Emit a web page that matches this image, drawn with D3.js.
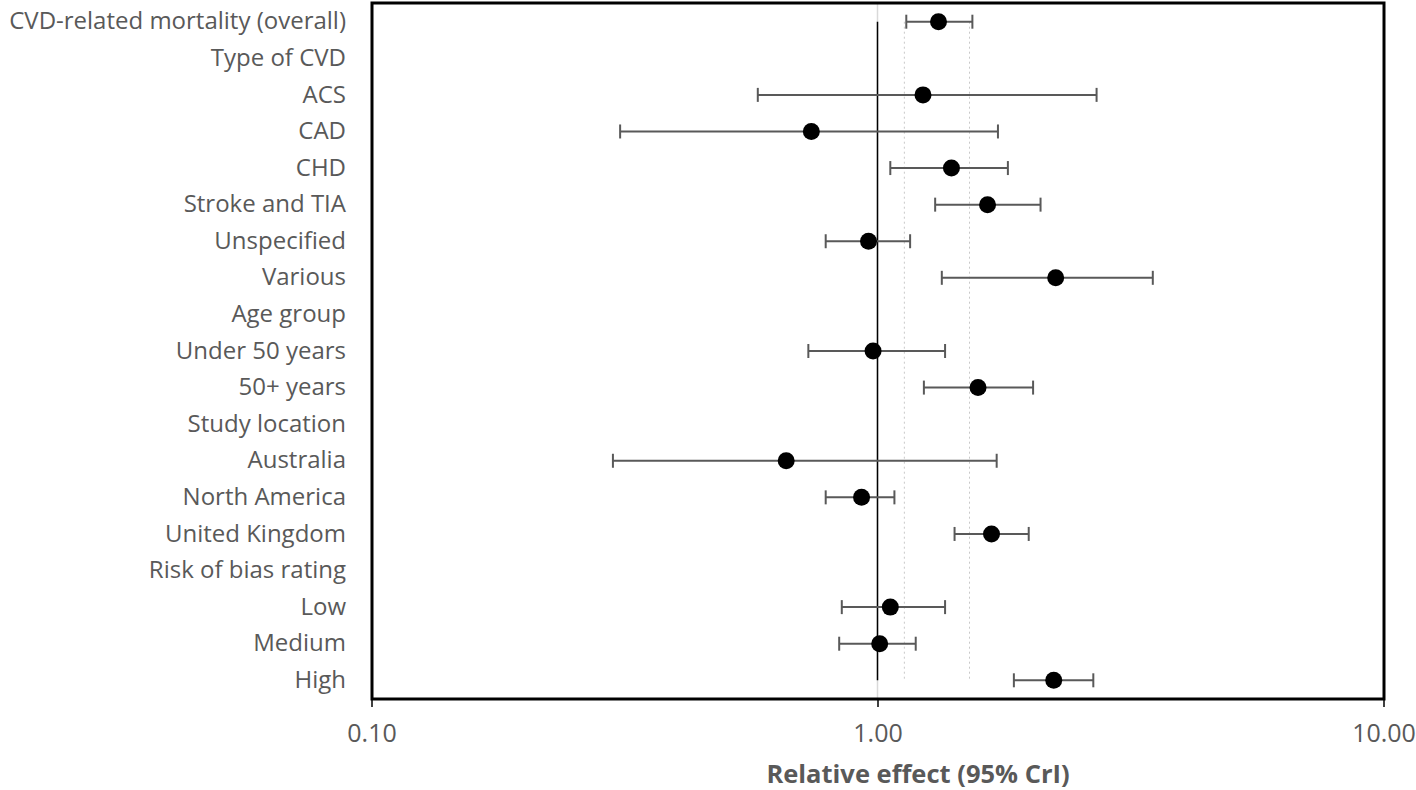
<!DOCTYPE html>
<html>
<head>
<meta charset="utf-8">
<script src="https://cdn.jsdelivr.net/npm/d3@7"></script>
<style>
  html, body { margin: 0; padding: 0; background: #ffffff; }
  svg { display: block; }
</style>
</head>
<body>
<svg id="chart" width="1416" height="790"></svg>
<script>
// ---- data ----
const categories = [
  "CVD-related mortality (overall)", "Type of CVD", "ACS", "CAD", "CHD",
  "Stroke and TIA", "Unspecified", "Various", "Age group", "Under 50 years",
  "50+ years", "Study location", "Australia", "North America", "United Kingdom",
  "Risk of bias rating", "Low", "Medium", "High"
];
// null = heading row without estimate
const estimate = [1.32, null, 1.23, 0.74, 1.40, 1.65, 0.96, 2.25, null, 0.98,
                  1.58, null, 0.66, 0.93, 1.68, null, 1.06, 1.01, 2.23];
const lower    = [1.14, null, 0.58, 0.31, 1.06, 1.30, 0.79, 1.34, null, 0.73,
                  1.235, null, 0.30, 0.79, 1.42, null, 0.85, 0.84, 1.86];
const upper    = [1.54, null, 2.71, 1.73, 1.81, 2.10, 1.16, 3.50, null, 1.36,
                  2.03, null, 1.72, 1.08, 1.99, null, 1.36, 1.19, 2.67];
const refLines = [1.13, 1.52];
const tickValues = [0.1, 1, 10];
const axisTitle = "Relative effect (95% CrI)";

(function () {
// ---- layout ----
const svg = d3.select("#chart");
const pLeft = 372, pRight = 1384, pTop = 3, pBottom = 699;
const x = d3.scaleLog().domain([0.1, 10]).range([pLeft - 0.5, pRight - 0.5]);
const y = d3.scalePoint().domain(categories).range([21.7, 680.3]);
const font = "'Open Sans', 'Noto Sans', sans-serif";
const grey = "#595959";

const rows = categories.map((c, i) => ({ c, est: estimate[i], lo: lower[i], hi: upper[i] }));

// light gridline at 1.0 spanning the plot
svg.append("line")
  .attr("x1", x(1)).attr("x2", x(1))
  .attr("y1", pTop).attr("y2", pBottom)
  .attr("stroke", "#d9d9d9").attr("stroke-width", 1.5);

// dotted reference lines
svg.selectAll("line.ref").data(refLines).enter().append("line")
  .attr("class", "ref")
  .attr("x1", d => x(d)).attr("x2", d => x(d))
  .attr("y1", y(categories[0])).attr("y2", y(categories[categories.length - 1]))
  .attr("stroke", "#c8c8c8").attr("stroke-width", 1)
  .attr("stroke-dasharray", "2,3");

// solid line of no effect
svg.append("line")
  .attr("x1", x(1)).attr("x2", x(1))
  .attr("y1", y(categories[0])).attr("y2", y(categories[categories.length - 1]))
  .attr("stroke", "#000").attr("stroke-width", 1.5);

const est = rows.filter(d => d.est !== null);

// error bars
const g = svg.append("g");
g.selectAll("line.ci").data(est).enter().append("line")
  .attr("x1", d => x(d.lo)).attr("x2", d => x(d.hi))
  .attr("y1", d => y(d.c)).attr("y2", d => y(d.c))
  .attr("stroke", grey).attr("stroke-width", 2);
g.selectAll("line.capl").data(est).enter().append("line")
  .attr("x1", d => x(d.lo)).attr("x2", d => x(d.lo))
  .attr("y1", d => y(d.c) - 7).attr("y2", d => y(d.c) + 7)
  .attr("stroke", grey).attr("stroke-width", 2);
g.selectAll("line.capr").data(est).enter().append("line")
  .attr("x1", d => x(d.hi)).attr("x2", d => x(d.hi))
  .attr("y1", d => y(d.c) - 7).attr("y2", d => y(d.c) + 7)
  .attr("stroke", grey).attr("stroke-width", 2);

// points
g.selectAll("circle").data(est).enter().append("circle")
  .attr("cx", d => x(d.est)).attr("cy", d => y(d.c))
  .attr("r", 8.5).attr("fill", "#000");

// frame
svg.append("rect")
  .attr("x", pLeft).attr("y", pTop)
  .attr("width", pRight - pLeft).attr("height", pBottom - pTop)
  .attr("fill", "none").attr("stroke", "#000").attr("stroke-width", 3);

// category labels
svg.selectAll("text.cat").data(categories).enter().append("text")
  .attr("x", 346).attr("y", d => y(d) - 1)
  .attr("dy", "0.36em")
  .attr("text-anchor", "end")
  .attr("font-family", font).attr("font-size", 24)
  .attr("fill", grey)
  .text(d => d);

// x axis
const axis = d3.axisBottom(x).tickValues(tickValues)
  .tickFormat(d3.format(".2f")).tickSize(8).tickPadding(17);
const ax = svg.append("g").attr("transform", `translate(0,${pBottom})`).call(axis);
ax.select(".domain").remove();
ax.selectAll(".tick line").attr("stroke", "#000").attr("stroke-width", 1.5);
ax.selectAll(".tick text")
  .attr("font-family", font).attr("font-size", 25).attr("fill", grey);

// axis title
svg.append("text")
  .attr("x", 918).attr("y", 783)
  .attr("text-anchor", "middle")
  .attr("font-family", font).attr("font-size", 25.5).attr("font-weight", "bold")
  .attr("fill", grey)
  .text(axisTitle);
})();
</script>
</body>
</html>
